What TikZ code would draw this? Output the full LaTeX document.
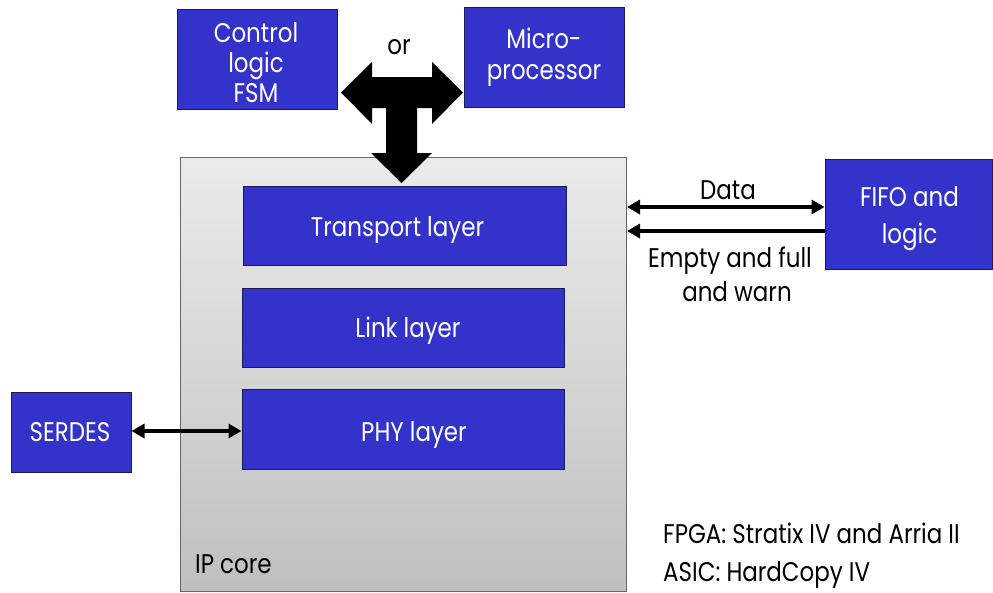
\documentclass[tikz,border=0pt]{standalone}
\usepackage{fontspec}
\setmainfont[FakeStretch=0.85]{Poppins}
\usetikzlibrary{arrows.meta}
\definecolor{blk}{HTML}{3333CC}
\definecolor{blkedge}{HTML}{1A1A55}
\tikzset{
  bluebox/.style={draw=blkedge, line width=1pt, fill=blk, inner sep=0pt},
  boxtxt/.style={text=white, align=center, font=\fontsize{27}{30}\selectfont, inner sep=0pt},
  lbl/.style={font=\fontsize{27}{34}\selectfont, inner sep=0pt, align=center},
  thinarrow/.style={line width=4pt, -{Triangle[length=13pt,width=14pt]}},
  thinboth/.style={line width=4pt, {Triangle[length=13pt,width=14pt]}-{Triangle[length=13pt,width=14pt]}}
}
\begin{document}
\begin{tikzpicture}[x=1pt,y=-1pt]
\useasboundingbox (0,0) rectangle (993,592);
% IP core
\node[draw=black!60, line width=1pt, top color=black!8, bottom color=black!25,
      minimum width=446pt, minimum height=434pt, inner sep=0pt] (ip) at (403,374) {};
\node[lbl, anchor=west] (iptxt) at (195,564) {IP core};
% layers
\node[bluebox, minimum width=323pt, minimum height=79pt] (tl) at (404.5,225.5) {};
\node[boxtxt] (tlt) at ([shift={(-7,5)}]tl.center) {Transport layer};
\node[bluebox, minimum width=322pt, minimum height=79pt] (ll) at (403,327.5) {};
\node[boxtxt] (llt) at ([shift={(5,3)}]ll.center) {Link layer};
\node[bluebox, minimum width=322pt, minimum height=80pt] (pl) at (403,429) {};
\node[boxtxt] (plt) at ([shift={(11,6)}]pl.center) {PHY layer};
% top boxes
\node[bluebox, minimum width=160pt, minimum height=100pt] (ctrl) at (257,59) {};
\node[boxtxt] (ctrlt) at ([shift={(-1,4)}]ctrl.center) {Control\\logic\\FSM};
\node[bluebox, minimum width=160pt, minimum height=100pt] (mp) at (544,57) {};
\node[boxtxt, font=\fontsize{27}{31}\selectfont] (mpt) at ([shift={(0,0)}]mp.center) {Micro-\\processor};
\node[lbl] (or) at (399,47) {or};
% SERDES
\node[bluebox, minimum width=120pt, minimum height=80pt] (serdes) at (71,432) {};
\node[boxtxt] (serdest) at ([shift={(-1,0)}]serdes.center) {SERDES};
% FIFO
\node[bluebox, minimum width=167pt, minimum height=110pt] (fifo) at (908.5,214) {};
\node[boxtxt, font=\fontsize{27}{37}\selectfont] (fifot) at ([shift={(1,5)}]fifo.center) {FIFO and\\logic};
% big T arrow
\fill[black] (341,92.5) -- (372,62) -- (372,77) -- (432,77) -- (432,62) -- (463,92.5)
  -- (432,124) -- (432,108) -- (417,108) -- (417,153) -- (432,153) -- (401.5,183)
  -- (371,153) -- (386,153) -- (386,108) -- (372,108) -- (372,124) -- cycle;
% arrows
\coordinate (dl) at (627,207);
\coordinate (el) at (627,231);
\draw[thinboth] (dl) -- (fifo.west |- dl);
\draw[thinarrow] (fifo.west |- el) -- (el);
\draw[thinboth] (serdes.east |- 0,431) -- (pl.west |- 0,431);
% labels
\node[lbl] (data) at (728,190) {Data};
\node[lbl] (efw) at (730,274) {Empty and full\\\hspace*{14pt}and warn};
\node[lbl, anchor=west, align=left, font=\fontsize{27}{38}\selectfont] (fpga) at (663,556) {FPGA: Stratix IV and Arria II\\ASIC: HardCopy IV};
\end{tikzpicture}
\end{document}
